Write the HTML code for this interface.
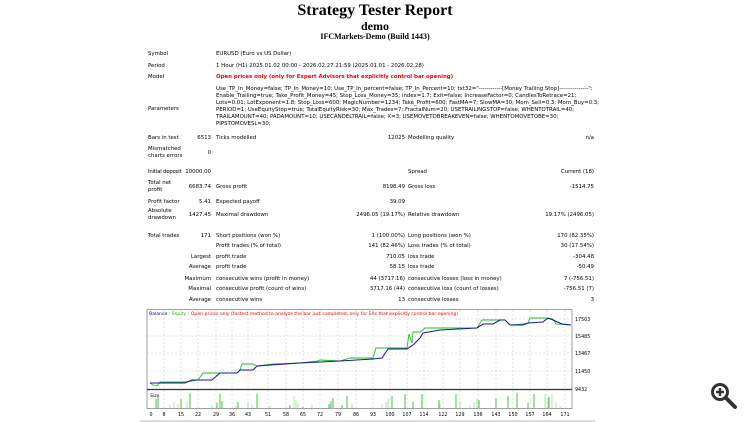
<!DOCTYPE html>
<html><head><meta charset="utf-8"><style>
body{margin:0;width:750px;height:422px;background:#fff;overflow:hidden;position:relative;font-family:"DejaVu Sans","Liberation Sans",sans-serif;font-size:5.4px;color:#000}
.t{position:absolute;white-space:nowrap;line-height:7px}
.r{text-align:right}
.h{position:absolute;left:0;width:750px;text-align:center;font-family:"Liberation Serif",serif;font-weight:bold}
</style></head><body>
<div class="h" style="top:2px;font-size:16px">Strategy Tester Report</div>
<div class="h" style="top:19px;font-size:12px">demo</div>
<div class="h" style="top:32px;font-size:8px">IFCMarkets-Demo (Build 1443)</div>

<div class="t" style="left:148px;top:51px">Symbol</div><div class="t" style="left:216px;top:51px">EURUSD (Euro vs US Dollar)</div>
<div class="t" style="left:148px;top:63px">Period</div><div class="t" style="left:216px;top:63px">1 Hour (H1) 2025.01.02 00:00 - 2026.02.27 21:59 (2025.01.01 - 2026.02.28)</div>
<div class="t" style="left:148px;top:74px">Model</div><div class="t" style="left:216px;top:74px;color:#e00;font-weight:bold">Open prices only (only for Expert Advisors that explicitly control bar opening)</div>
<div class="t" style="left:148px;top:106px">Parameters</div>
<div class="t" style="left:216px;top:86px">Use_TP_In_Money=false; TP_In_Money=10; Use_TP_In_percent=false; TP_In_Percent=10; txt32="------------[Money Trailing Stop]---------------";</div>
<div class="t" style="left:216px;top:93px">Enable_Trailing=true; Take_Profit_Money=45; Stop_Loss_Money=35; index=1.7; Exit=false; IncreaseFactor=0; CandlesToRetrace=21;</div>
<div class="t" style="left:216px;top:100px">Lots=0.01; LotExponent=1.8; Stop_Loss=600; MagicNumber=1234; Take_Profit=600; FastMA=7; SlowMA=30; Mom_Sell=0.3; Mom_Buy=0.3;</div>
<div class="t" style="left:216px;top:107px">PERIOD=1; UseEquityStop=true; TotalEquityRisk=30; Max_Trades=7; FractalNum=20; USETRAILINGSTOP=false; WHENTOTRAIL=40;</div>
<div class="t" style="left:216px;top:114px">TRAILAMOUNT=40; PADAMOUNT=10; USECANDELTRAIL=false; X=3; USEMOVETOBREAKEVEN=false; WHENTOMOVETOBE=30;</div>
<div class="t" style="left:216px;top:121px">PIPSTOMOVESL=30;</div>
<div class="t" style="left:148px;top:135px">Bars in test</div><div class="t r" style="right:539px;top:135px">6513</div><div class="t" style="left:216px;top:135px">Ticks modelled</div><div class="t r" style="right:345px;top:135px">12025</div><div class="t" style="left:408px;top:135px">Modelling quality</div><div class="t r" style="right:156px;top:135px">n/a</div>
<div class="t" style="left:148px;top:146px">Mismatched<br>charts errors</div><div class="t r" style="right:539px;top:150px">0</div>

<div class="t" style="left:148px;top:169px;letter-spacing:-0.2px">Initial deposit</div><div class="t r" style="right:539px;top:169px">10000.00</div><div class="t" style="left:408px;top:169px">Spread</div><div class="t r" style="right:156px;top:169px">Current (18)</div>
<div class="t" style="left:148px;top:180px">Total net<br>profit</div><div class="t r" style="right:539px;top:184px">6683.74</div><div class="t" style="left:216px;top:184px">Gross profit</div><div class="t r" style="right:345px;top:184px">8198.49</div><div class="t" style="left:408px;top:184px">Gross loss</div><div class="t r" style="right:156px;top:184px">-1514.75</div>
<div class="t" style="left:148px;top:199px">Profit factor</div><div class="t r" style="right:539px;top:199px">5.41</div><div class="t" style="left:216px;top:199px">Expected payoff</div><div class="t r" style="right:345px;top:199px">39.09</div>
<div class="t" style="left:148px;top:208px">Absolute<br>drawdown</div><div class="t r" style="right:539px;top:212px">1427.45</div><div class="t" style="left:216px;top:212px">Maximal drawdown</div><div class="t r" style="right:345px;top:212px">2496.05 (19.17%)</div><div class="t" style="left:408px;top:212px">Relative drawdown</div><div class="t r" style="right:156px;top:212px">19.17% (2496.05)</div>

<div class="t" style="left:148px;top:233px">Total trades</div><div class="t r" style="right:539px;top:233px">171</div><div class="t" style="left:216px;top:233px">Short positions (won %)</div><div class="t r" style="right:345px;top:233px">1 (100.00%)</div><div class="t" style="left:408px;top:233px">Long positions (won %)</div><div class="t r" style="right:156px;top:233px">170 (82.35%)</div>
<div class="t" style="left:216px;top:243px">Profit trades (% of total)</div><div class="t r" style="right:345px;top:243px">141 (82.46%)</div><div class="t" style="left:408px;top:243px">Loss trades (% of total)</div><div class="t r" style="right:156px;top:243px">30 (17.54%)</div>
<div class="t r" style="right:539px;top:254px">Largest</div><div class="t" style="left:216px;top:254px">profit trade</div><div class="t r" style="right:345px;top:254px">710.05</div><div class="t" style="left:408px;top:254px">loss trade</div><div class="t r" style="right:156px;top:254px">-304.48</div>
<div class="t r" style="right:539px;top:264px">Average</div><div class="t" style="left:216px;top:264px">profit trade</div><div class="t r" style="right:345px;top:264px">58.15</div><div class="t" style="left:408px;top:264px">loss trade</div><div class="t r" style="right:156px;top:264px">-50.49</div>
<div class="t r" style="right:539px;top:276px">Maximum</div><div class="t" style="left:216px;top:276px">consecutive wins (profit in money)</div><div class="t r" style="right:345px;top:276px">44 (3717.16)</div><div class="t" style="left:408px;top:276px">consecutive losses (loss in money)</div><div class="t r" style="right:156px;top:276px">7 (-756.51)</div>
<div class="t r" style="right:539px;top:286px">Maximal</div><div class="t" style="left:216px;top:286px">consecutive profit (count of wins)</div><div class="t r" style="right:345px;top:286px">3717.16 (44)</div><div class="t" style="left:408px;top:286px">consecutive loss (count of losses)</div><div class="t r" style="right:156px;top:286px">-756.51 (7)</div>
<div class="t r" style="right:539px;top:297px">Average</div><div class="t" style="left:216px;top:297px">consecutive wins</div><div class="t r" style="right:345px;top:297px">13</div><div class="t" style="left:408px;top:297px">consecutive losses</div><div class="t r" style="right:156px;top:297px">3</div>

<svg style="position:absolute;left:0;top:0" width="750" height="422" font-family="DejaVu Sans,sans-serif" font-size="5">
<g stroke="#ccc" stroke-dasharray="2,2" stroke-width="0.6">
<line x1="147" y1="319" x2="572" y2="319"/><line x1="147" y1="336" x2="572" y2="336"/><line x1="147" y1="353" x2="572" y2="353"/><line x1="147" y1="371" x2="572" y2="371"/>
<path d="M164 310V408M181 310V408M198 310V408M216 310V408M232 310V408M248 310V408M268 310V408M286 310V408M303 310V408M320 310V408M338 310V408M356 310V408M373 310V408M390 310V408M407 310V408M424 310V408M443 310V408M460 310V408M478 310V408M496 310V408M513 310V408M530 310V408M547 310V408M565 310V408"/>
</g>
<rect x="147" y="309.5" width="425" height="99" fill="none" stroke="#888" stroke-width="0.8"/>
<line x1="147" y1="389.5" x2="572" y2="389.5" stroke="#333" stroke-width="1.3"/>
<text x="149" y="315" font-size="4.6"><tspan fill="#00008b">Balance</tspan><tspan fill="#888"> / </tspan><tspan fill="#2a2">Equity</tspan><tspan fill="#888"> / </tspan><tspan fill="#e00">Open prices only (fastest method to analyze the bar just completed, only for EAs that explicitly control bar opening)</tspan></text>
<text x="150" y="397" font-size="4.6">Size</text>
<polyline fill="none" stroke="#2b2" stroke-width="0.9" points="150,383 153,385 157,386 160,382 185,382 192,381 198,380 203,373 220,373 237,373 240,370 242,364 253,364 257,366 273,364 300,363 318,361 320,360 340,361 350,358 373,358 376,348 388,348 407,348 409,334 412,343 413,332 420,332 425,328 440,328 477,328 482,320 500,320 505,320 510,325 523,324 528,323 530,318 545,318 553,319 556,324 571,325"/>
<polyline fill="none" stroke="#1a1aa0" stroke-width="1.1" points="150,383 185,383 192,380 212,380 220,373 237,373 240,370 253,370 257,366 300,363 340,361 373,359 382,358 388,349 407,349 413,345 420,338 423,333 440,330 477,328 483,324 493,324 500,320 505,320 510,325 523,325 528,323 543,322 548,318 553,320 562,324 571,325"/>
<g fill="#000" font-size="4.8">
<text x="575" y="321">17503</text><text x="575" y="338">15485</text><text x="575" y="355">13467</text><text x="575" y="373">11450</text><text x="575" y="391">9432</text>
</g>
<g stroke="#2a2" stroke-width="0.8">
<path d="M156 408v-9M158 408v-11M181 408v-9M190 408v-15M217 408v-5M220 408v-14M238 408v-6M257 408v-14M329 408v-4M331 408v-7M333 408v-10M347 408v-12M392 408v-12M405 408v-14M413 408v-6M422 408v-14M439 408v-8M456 408v-14M479 408v-8M496 408v-10M508 408v-12M517 408v-15M528 408v-5M534 408v-14M222 408v-7M290 408v-3M303 408v-1M342 408v-3M549 408v-11"/>
</g>
<g stroke="#9d9" stroke-width="0.8">
<path d="M170 408v-3M174 408v-6M178 408v-4M187 408v-7M212 408v-3M236 408v-3M248 408v-6M252 408v-4M294 408v-12M296 408v-8M298 408v-5M352 408v-5M382 408v-4M386 408v-6M388 408v-9M440 408v-4M460 408v-7M470 408v-3M474 408v-6M477 408v-9M545 408v-14M548 408v-10M552 408v-14M556 408v-6M560 408v-2M270 408v-2M312 408v-3M330 408v-2"/>
</g>
<g font-size="4.8" text-anchor="middle">
<text x="151" y="416">0</text><text x="164" y="416">8</text><text x="181" y="416">15</text><text x="198" y="416">22</text><text x="216" y="416">29</text><text x="232" y="416">36</text><text x="248" y="416">43</text><text x="268" y="416">51</text><text x="286" y="416">58</text><text x="303" y="416">65</text><text x="320" y="416">72</text><text x="338" y="416">79</text><text x="356" y="416">86</text><text x="373" y="416">93</text><text x="390" y="416">100</text><text x="407" y="416">107</text><text x="424" y="416">114</text><text x="443" y="416">122</text><text x="460" y="416">129</text><text x="478" y="416">136</text><text x="496" y="416">143</text><text x="513" y="416">150</text><text x="530" y="416">157</text><text x="547" y="416">164</text><text x="565" y="416">171</text>
</g>
<line x1="140" y1="421" x2="595" y2="421" stroke="#bbb"/>
<circle cx="720" cy="392" r="7.5" fill="none" stroke="#333" stroke-width="3"/>
<path d="M716 392h8M720 388v8" stroke="#333" stroke-width="2.5"/>
<line x1="726" y1="398" x2="735" y2="407" stroke="#333" stroke-width="4" stroke-linecap="round"/>
</svg>
</body></html>
